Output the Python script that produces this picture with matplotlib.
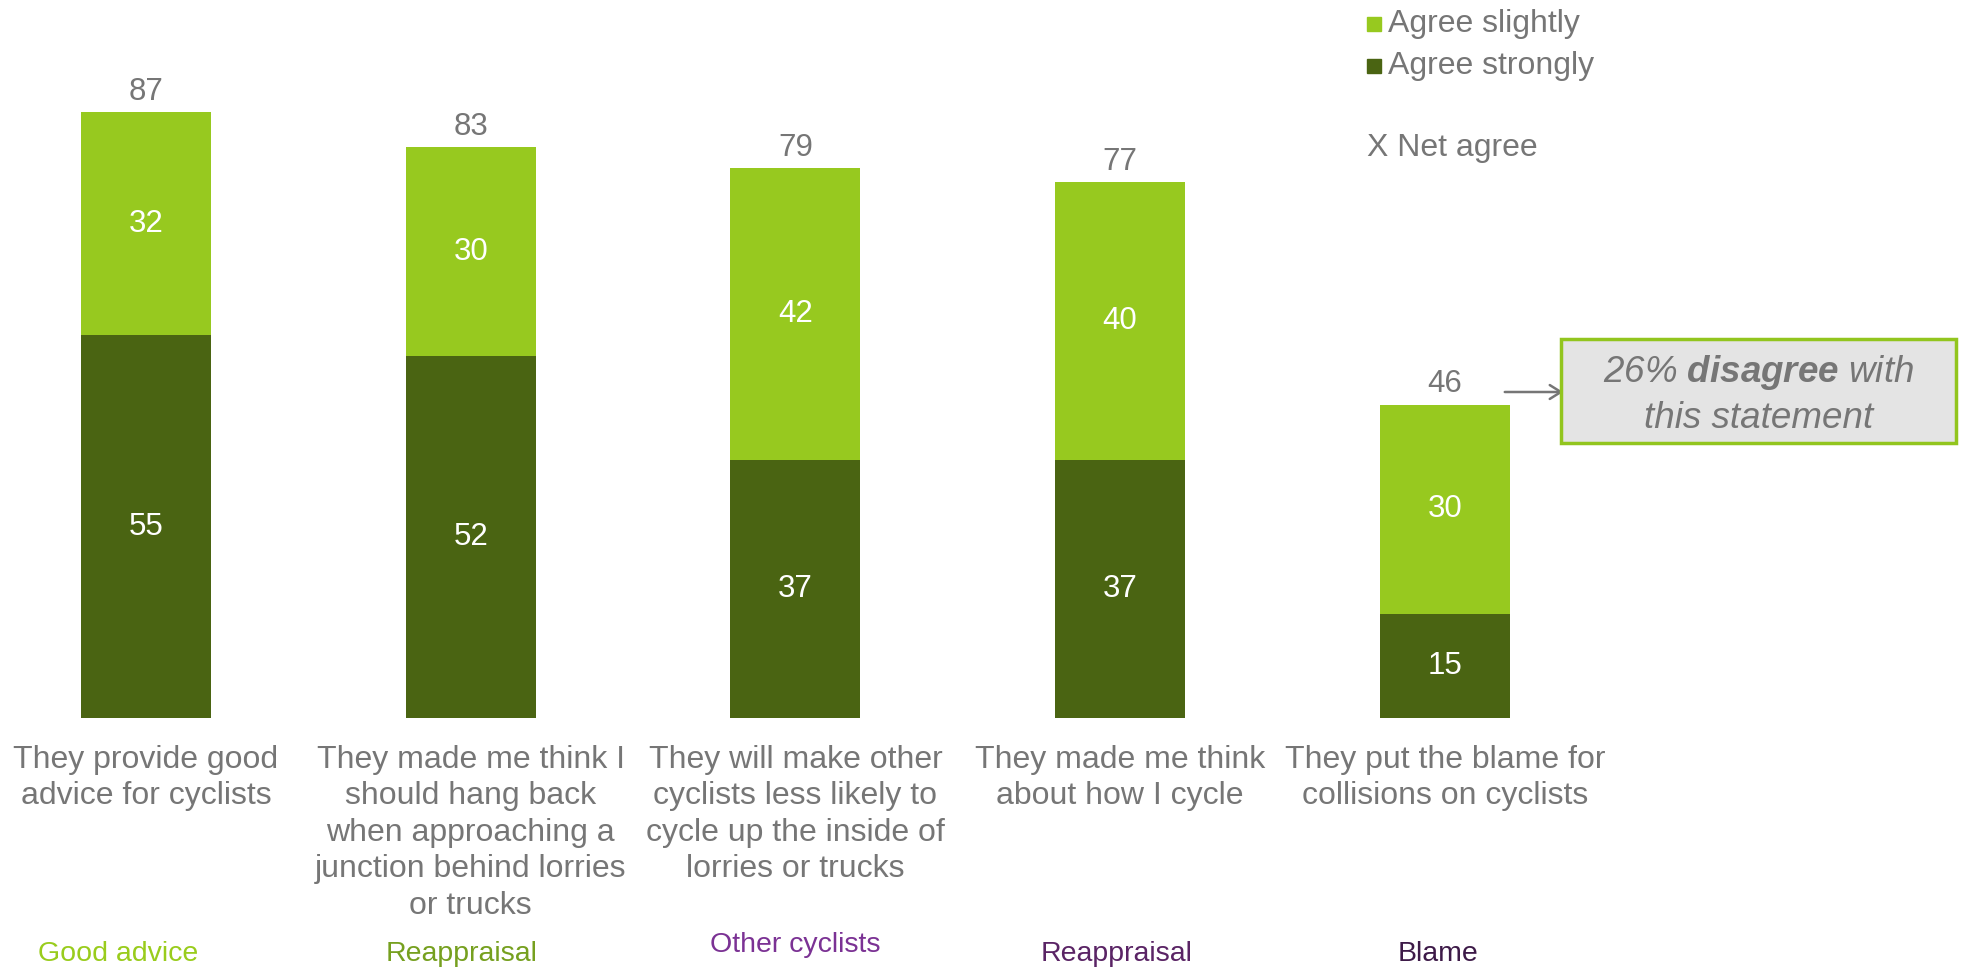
import matplotlib
matplotlib.use("Agg")
import matplotlib.pyplot as plt
from matplotlib.patches import FancyArrowPatch

plt.rcParams['font.family'] = ['Liberation Sans', 'DejaVu Sans']
# Math text is only used for the italic call-out with one bold word
plt.rcParams['mathtext.fontset'] = 'custom'
plt.rcParams['mathtext.it'] = 'Liberation Sans:italic'
plt.rcParams['mathtext.bf'] = 'Liberation Sans:bold:italic'
plt.rcParams['mathtext.rm'] = 'Liberation Sans:italic'

# Survey results: share agreeing with each statement (%)
categories = [
    "They provide good\nadvice for cyclists",
    "They made me think I\nshould hang back\nwhen approaching a\njunction behind lorries\nor trucks",
    "They will make other\ncyclists less likely to\ncycle up the inside of\nlorries or trucks",
    "They made me think\nabout how I cycle",
    "They put the blame for\ncollisions on cyclists",
]
agree_strongly = [55, 52, 37, 37, 15]
agree_slightly = [32, 30, 42, 40, 30]
net_agree = [87, 83, 79, 77, 46]
groups = ["Good advice", "Reappraisal", "Other cyclists", "Reappraisal", "Blame"]
group_colors = ["#99cc1c", "#76a01f", "#7b3294", "#5a2465", "#3d1a48"]
group_offsets = [0, 0, 9, 0, 0]

LIGHT = "#97c91f"
DARK = "#4a6412"
GREY = "#767676"

W, H = 1966, 969
fig = plt.figure(figsize=(W / 100, H / 100), dpi=100)

# Axes spans the full width; baseline sits at y=718 px from top
base_px = 718
ax = fig.add_axes([0, (H - base_px) / H, 1, base_px / H])
px_per_unit = 6.96
spacing = 324.7
first_px = 146
ax.set_xlim(-first_px / spacing, (W - first_px) / spacing)
ax.set_ylim(0, base_px / px_per_unit)
ax.axis("off")

x = list(range(len(categories)))
bw = 0.4
ax.bar(x, agree_strongly, width=bw, color=DARK, label="Agree strongly")
ax.bar(x, agree_slightly, width=bw, bottom=agree_strongly, color=LIGHT,
       label="Agree slightly")

fs = 23
for i in x:
    s, l = agree_strongly[i], agree_slightly[i]
    ax.text(i, s / 2, str(s), ha="center", va="center", color="white", fontsize=22.5)
    ax.text(i, s + l / 2, str(l), ha="center", va="center", color="white", fontsize=22.5)
    ax.annotate(str(net_agree[i]), (i, s + l), xytext=(0, 4),
                textcoords="offset points", ha="center", va="bottom",
                color=GREY, fontsize=22.5)

# Statement labels below the bars
for i, cat in enumerate(categories):
    fig.text((first_px + i * spacing) / W, 1 - 745 / H, cat, ha="center", va="top",
             color=GREY, fontsize=fs, linespacing=1.28)

# Theme labels along the bottom
group_x = [118, 462, 795, 1117, 1438]
for gx, g, c, off in zip(group_x, groups, group_colors, group_offsets):
    fig.text(gx / W, 1 - (954 - off) / H, g, ha="center", va="center",
             color=c, fontsize=20.5)

# Legend
sq = 14
for ty, lab, col in [(24, "Agree slightly", LIGHT), (66, "Agree strongly", DARK)]:
    fig.patches.append(plt.Rectangle((1367 / W, 1 - (ty + sq / 2) / H), sq / W, sq / H,
                                     transform=fig.transFigure, color=col))
    fig.text(1388 / W, 1 - ty / H, lab, ha="left", va="center", color=GREY, fontsize=fs)
fig.text(1367 / W, 1 - 148 / H, "X Net agree", ha="left", va="center",
         color=GREY, fontsize=fs)

# Call-out box for the last statement
bx0, by0, bx1, by1 = 1561, 339, 1956, 443
box = plt.Rectangle((bx0 / W, 1 - by1 / H), (bx1 - bx0) / W, (by1 - by0) / H,
                    transform=fig.transFigure, facecolor="#e4e4e4",
                    edgecolor="#92c51e", linewidth=2.5)
fig.patches.append(box)
cx, cy = (bx0 + bx1) / 2, (by0 + by1) / 2
fig.text(cx / W, 1 - (cy - 19) / H,
         r"$\mathit{26\%\ }\mathbf{disagree}\mathit{\ with}$", ha="center", va="center",
         color=GREY, fontsize=26.5)
fig.text(cx / W, 1 - (cy + 27) / H, "this statement", ha="center", va="center",
         color=GREY, fontsize=26.5, style="italic")
fig.add_artist(FancyArrowPatch(
    (1502 / W, 1 - 392 / H), (1566 / W, 1 - 392 / H),
    transform=fig.transFigure, arrowstyle="->,head_length=8,head_width=5",
    color=GREY, linewidth=1.8, mutation_scale=1))

fig.savefig("out.png", dpi=100, facecolor="white")
